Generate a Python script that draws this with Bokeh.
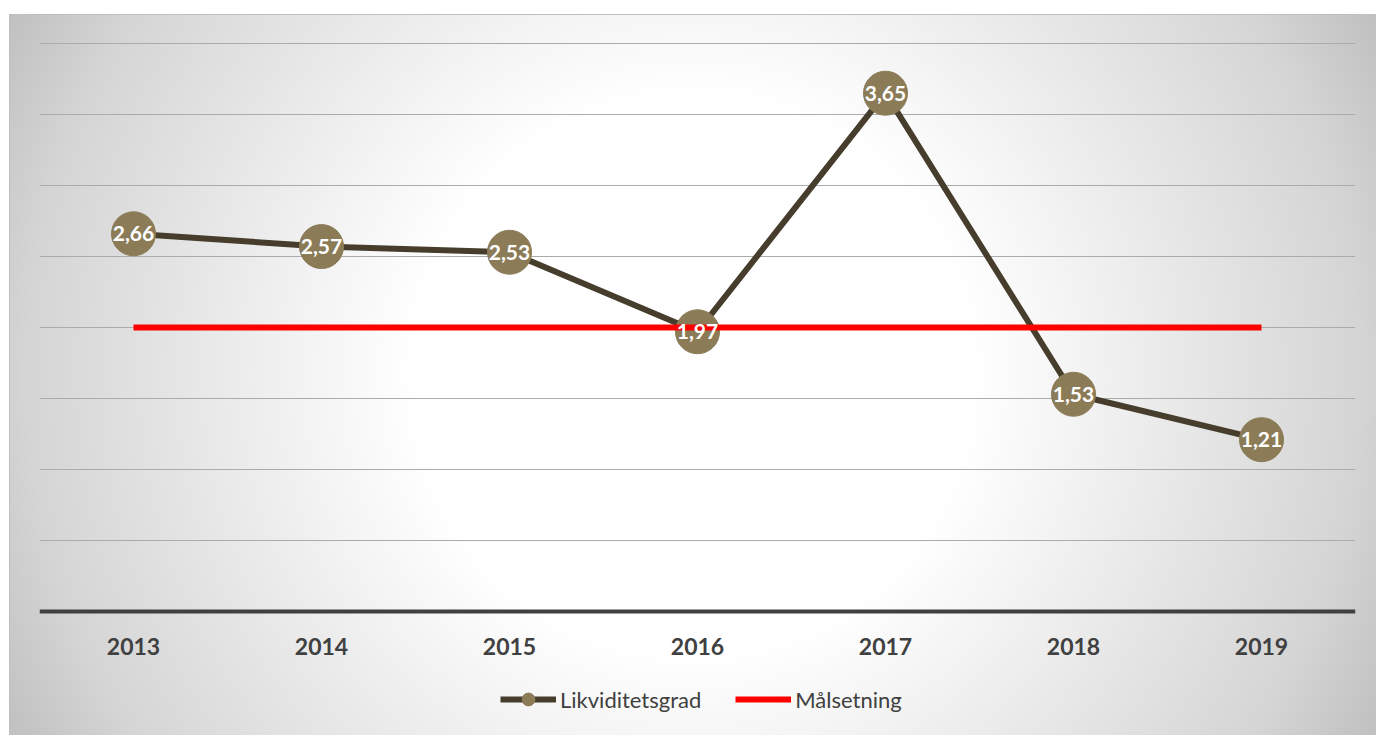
from bokeh.plotting import figure
from bokeh.models import Range1d, Legend, LegendItem, ColumnDataSource, Span
from bokeh.core.properties import value
from bokeh.embed import file_html
from bokeh.resources import INLINE

years = ["2013", "2014", "2015", "2016", "2017", "2018", "2019"]
likviditetsgrad = [2.66, 2.57, 2.53, 1.97, 3.65, 1.53, 1.21]
malsetning = [2.0, 2.0, 2.0, 2.0, 2.0, 2.0, 2.0]
series_names = ["Likviditetsgrad", "Målsetning"]

labels = [f"{v:.2f}".replace(".", ",") for v in likviditetsgrad]
src = ColumnDataSource(dict(x=years, y=likviditetsgrad, lab=labels))
src_t = ColumnDataSource(dict(x=years, y=malsetning))
src_x = ColumnDataSource(dict(x=years, y=[0] * len(years)))

FONT = "Lato"
PX = 142.0  # pixels per unit
y_end = 4.0 + 1 / PX
frame_h = 693
y_start = y_end - frame_h / PX

p = figure(frame_width=1316, frame_height=frame_h, x_range=years,
           y_range=Range1d(y_start, y_end),
           output_backend="svg", toolbar_location=None,
           min_border_left=30, min_border_right=21, min_border_top=28,
           min_border_bottom=0)
p.margin = (14, 0, 0, 9)
p.background_fill_color = None
p.border_fill_color = None
p.outline_line_color = None
p.styles = {
    "background": "radial-gradient(circle farthest-corner at 50% 50%, #ffffff 0%, #ffffff 36%, #f5f5f5 48%, #d5d5d5 86%, #c0c0c0 100%)",
    "box-shadow": "inset 1px 1px 0 #bfbfbf",
}
p.x_range.range_padding = 0

p.axis.visible = False
p.ygrid.ticker = [0.5 * i for i in range(1, 9)]
p.ygrid.grid_line_color = "#ababab"
p.ygrid.grid_line_width = 1
p.xgrid.grid_line_color = None

p.add_layout(Span(location=0, dimension="width", line_color="#404040", line_width=4))

p.text("x", "y", text="x", source=src_x, y_offset=35, text_align="center",
       text_baseline="middle", text_color="#404040", text_font=value(FONT),
       text_font_style="bold", text_font_size="23px")

line_r = p.line("x", "y", source=src, line_color="#463d2c", line_width=6)
circ_r = p.scatter("x", "y", source=src, size=44, fill_color="#8b7b57",
                   line_color="#8b7b57")
red_r = p.line("x", "y", source=src_t, line_color="#ff0000", line_width=6)
p.text("x", "y", text="lab", source=src, text_align="center",
       text_baseline="middle", text_color="white",
       text_font=value(FONT), text_font_style="bold", text_font_size="21px")

legend = Legend(items=[LegendItem(label=series_names[0], renderers=[line_r, circ_r]),
                       LegendItem(label=series_names[1], renderers=[red_r])],
                orientation="horizontal", location=(461, 20),
                label_text_font=FONT, label_text_font_size="22px",
                label_text_color="#404040", glyph_width=56, glyph_height=32,
                label_standoff=4, spacing=34, border_line_color=None,
                background_fill_alpha=0, margin=0, padding=0)
p.add_layout(legend, "center")

open("out.html", "w").write(file_html(p, INLINE))
